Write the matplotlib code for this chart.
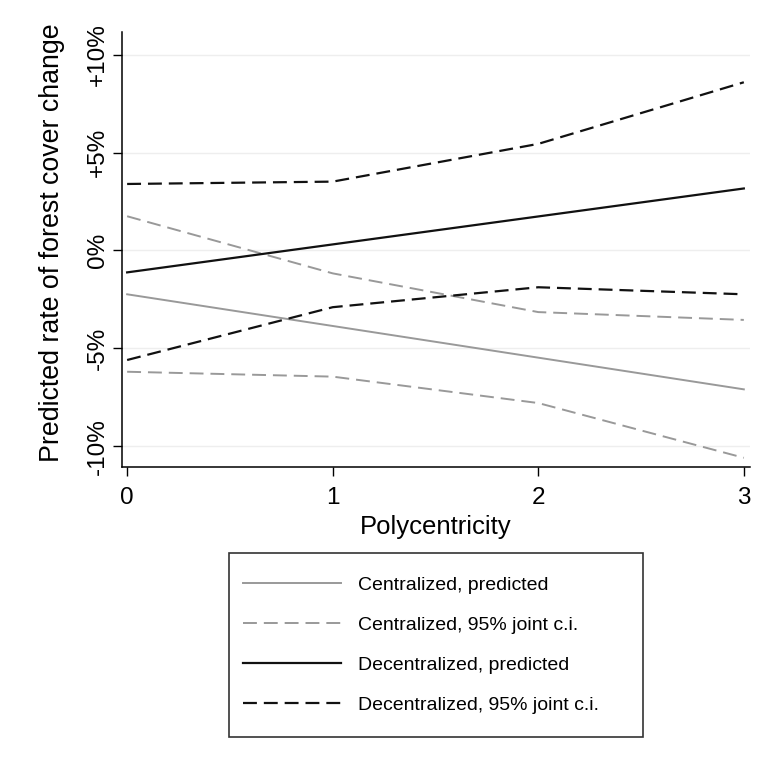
import matplotlib
matplotlib.use("Agg")
import matplotlib.pyplot as plt
from matplotlib.lines import Line2D
from matplotlib.patches import Rectangle

plt.rcParams['font.family'] = ['Liberation Sans', 'DejaVu Sans']
plt.rcParams['lines.scale_dashes'] = False

polycentricity = [0, 1, 2, 3]
cent_pred = [-2.24, -3.86, -5.48, -7.10]
cent_upper = [1.75, -1.17, -3.15, -3.55]
cent_lower = [-6.2, -6.45, -7.8, -10.6]
dec_pred = [-1.12, 0.31, 1.74, 3.17]
dec_upper = [3.4, 3.52, 5.45, 8.6]
dec_lower = [-5.6, -2.9, -1.88, -2.24]

y_ticks = [-10, -5, 0, 5, 10]
y_ticklabels = ['-10%', '-5%', '0%', '+5%', '+10%']
x_ticks = [0, 1, 2, 3]

labels = ['Centralized, predicted', 'Centralized, 95% joint c.i.',
          'Decentralized, predicted', 'Decentralized, 95% joint c.i.']

W, H = 767, 769
fig = plt.figure(figsize=(W / 100, H / 100), dpi=100)
ax = fig.add_axes([122 / W, 1 - 467 / H, (750 - 122) / W, (467 - 32) / H])

gray = '#999999'
black = '#111111'
dash = (0, (10, 5))
lw_g = 1.4
lw_b = 1.6

ax.plot(polycentricity, cent_pred, color=gray, lw=lw_g)
ax.plot(polycentricity, cent_upper, color=gray, lw=lw_g, linestyle=dash)
ax.plot(polycentricity, cent_lower, color=gray, lw=lw_g, linestyle=dash)
ax.plot(polycentricity, dec_pred, color=black, lw=lw_b)
ax.plot(polycentricity, dec_upper, color=black, lw=lw_b, linestyle=dash)
ax.plot(polycentricity, dec_lower, color=black, lw=lw_b, linestyle=dash)

ax.set_xlim(-0.025, 3.03)
ax.set_ylim(-11.07, 11.17)

ax.set_yticks(y_ticks)
ax.set_yticklabels(y_ticklabels, rotation=90, va='center', fontsize=17.5)
ax.set_xticks(x_ticks)
ax.set_xticklabels([str(v) for v in x_ticks], fontsize=17.5)
ax.tick_params(axis='both', direction='out', length=6.5, width=1, colors='black')
ax.tick_params(axis='y', pad=3)
ax.tick_params(axis='x', pad=8)

for v in y_ticks:
    ax.axhline(v, color='#eeeeee', lw=1, zorder=0)

for s in ['top', 'right']:
    ax.spines[s].set_visible(False)
for s in ['left', 'bottom']:
    ax.spines[s].set_linewidth(1.1)

ax.set_xlabel('Polycentricity', fontsize=18.5, labelpad=4.5)
ax.set_ylabel('Predicted rate of forest cover change', fontsize=19.3)
ax.yaxis.set_label_coords((65 - 122) / 628, 0.515)

handles = [
    Line2D([], [], color=gray, lw=lw_g),
    Line2D([], [], color=gray, lw=lw_g, linestyle=dash),
    Line2D([], [], color=black, lw=lw_b),
    Line2D([], [], color=black, lw=lw_b, linestyle=dash),
]
leg = fig.legend(handles, labels, loc='center',
                 bbox_to_anchor=(421 / W, 1 - 645 / H),
                 fontsize=14, frameon=False,
                 handlelength=5.05, handletextpad=0.88, labelspacing=1.16,
                 borderpad=0, borderaxespad=0)

fig.add_artist(Rectangle((229 / W, 1 - 737 / H), (643 - 229) / W, (737 - 553) / H,
                         transform=fig.transFigure, fill=False,
                         edgecolor='#333333', linewidth=1.2))

fig.savefig('out.png', dpi=100)
